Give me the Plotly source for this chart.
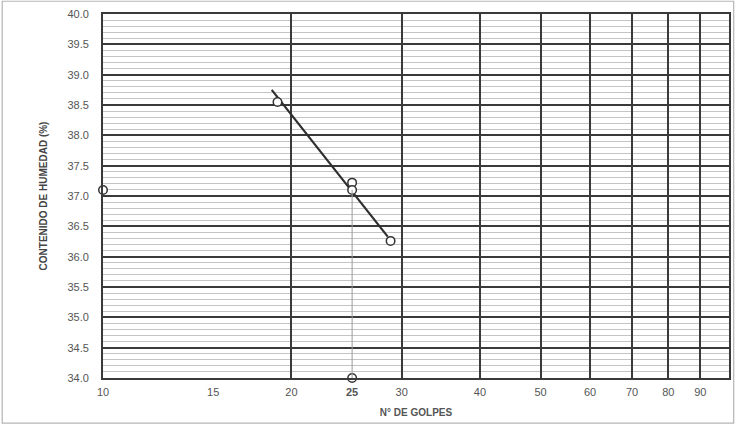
import plotly.graph_objects as go

# Data
golpes = [19.0, 25.0, 28.8]
humedad = [38.55, 37.22, 36.26]
trend_x = [18.6, 28.5]
trend_y = [38.75, 36.33]
lim_golpes = [25.0]
lim_humedad = [37.1]
proj_x = [10.0, 25.0]
proj_y = [37.1, 34.0]
vline_x = [25.0, 25.0]
vline_y = [34.0, 37.1]

x_gridvals = [20, 30, 40, 50, 60, 70, 80, 90]
x_gridtext = ["20", "30", "40", "50", "60", "70", "80", "90"]
x_extravals = [10, 15, 25]
x_extratext = ["10", "15", "<b>25</b>"]
y_tickvals = [34.0, 34.5, 35.0, 35.5, 36.0, 36.5, 37.0, 37.5, 38.0, 38.5, 39.0, 39.5, 40.0]

dark = "#3a3a3a"
marker_style = dict(symbol="circle", size=8.5, color="white", line=dict(color="#333", width=1.5))

fig = go.Figure()
fig.add_trace(go.Scatter(x=vline_x, y=vline_y, mode="lines", xaxis="x2",
                         line=dict(color="#9a9a9a", width=1), hoverinfo="skip"))
fig.add_trace(go.Scatter(x=trend_x, y=trend_y, mode="lines",
                         line=dict(color="#2e2e2e", width=2.2)))
fig.add_trace(go.Scatter(x=golpes, y=humedad, mode="markers", marker=marker_style, cliponaxis=False))
fig.add_trace(go.Scatter(x=lim_golpes, y=lim_humedad, mode="markers", marker=marker_style, cliponaxis=False))
fig.add_trace(go.Scatter(x=proj_x, y=proj_y, mode="markers", marker=marker_style, cliponaxis=False))

fig.update_layout(
    width=738, height=428,
    margin=dict(l=103, r=7, t=14, b=50),
    paper_bgcolor="white", plot_bgcolor="white",
    showlegend=False,
    font=dict(family="Liberation Sans, Arial, sans-serif", color="#555"),
    xaxis=dict(
        type="log", range=[1, 2],
        tickvals=x_gridvals, ticktext=x_gridtext,
        tickfont=dict(size=11, color="#555"),
        showgrid=True, gridcolor=dark, gridwidth=1.8,
        zeroline=False,
        showline=True, linecolor=dark, linewidth=1.8, mirror=True,
        ticks="", ticklabelstandoff=3,
        title=dict(text="<b>N° DE GOLPES</b>", font=dict(size=10, color="#555"), standoff=12),
    ),
    xaxis2=dict(
        type="log", range=[1, 2], overlaying="x", side="bottom", anchor="y",
        tickvals=x_extravals, ticktext=x_extratext,
        tickfont=dict(size=11, color="#555"),
        showgrid=False, zeroline=False,
        showline=True, linecolor=dark, linewidth=1.8,
        ticks="", ticklabelstandoff=3,
    ),
    yaxis=dict(
        range=[34, 40],
        tickvals=y_tickvals, tickformat=".1f",
        tickfont=dict(size=11, color="#555"),
        showgrid=True, gridcolor=dark, gridwidth=1.5,
        zeroline=False,
        showline=True, linecolor=dark, linewidth=1.8, mirror=True,
        ticks="", ticklabelstandoff=10,
        minor=dict(dtick=0.1, tick0=34, showgrid=True, gridcolor="#c4c4c4", gridwidth=1, ticks=""),
        title=dict(text="<b>CONTENIDO DE HUMEDAD (%)</b>", font=dict(size=10, color="#444"), standoff=18),
    ),
    shapes=[dict(type="rect", xref="paper", yref="paper",
                 x0=-0.161, x1=1.0075, y0=-0.124, y1=1.035,
                 line=dict(color="#b5b5b5", width=1.2), fillcolor="rgba(0,0,0,0)", layer="below")],
)

fig.write_html("out.html")
